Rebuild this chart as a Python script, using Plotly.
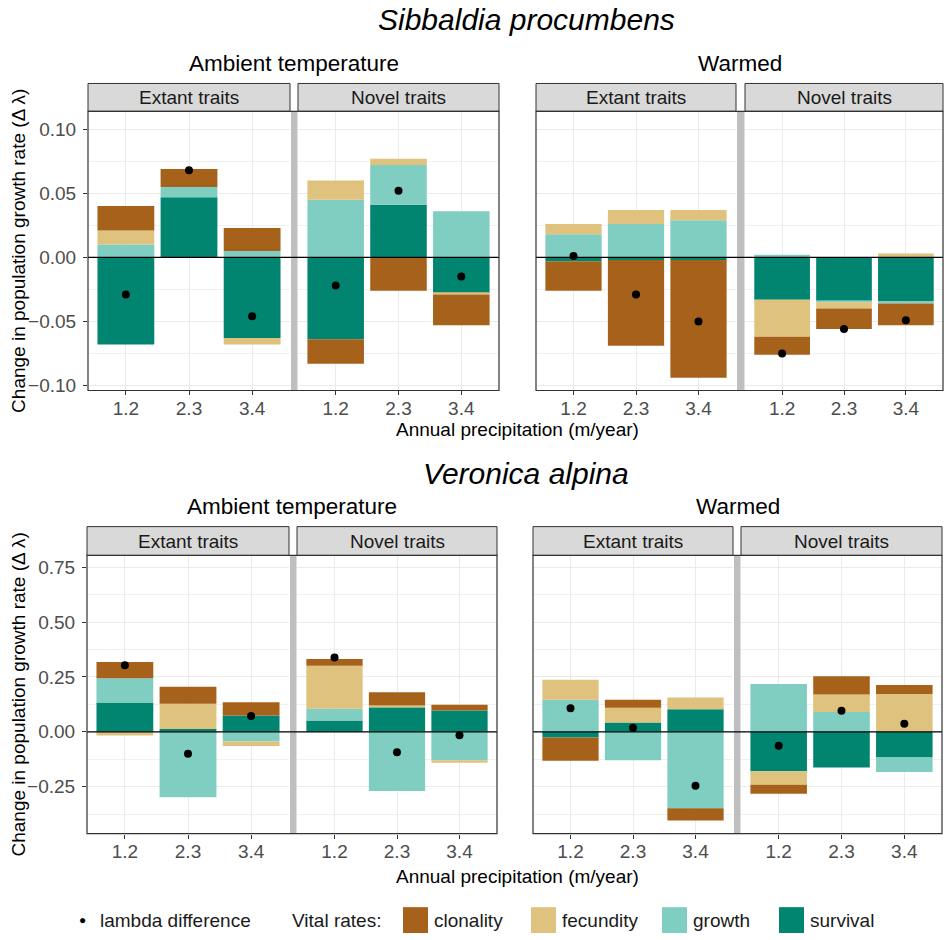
import plotly.graph_objects as go

# ---------------- data ----------------
precip = ['1.2', '2.3', '3.4']
species = ['Sibbaldia procumbens', 'Veronica alpina']
treatments = ['Ambient temperature', 'Warmed']
trait_sets = ['Extant traits', 'Novel traits']
rates = ['survival', 'growth', 'fecundity', 'clonality']

# panel order per list: ambient-extant(3), ambient-novel(3), warmed-extant(3), warmed-novel(3)
sib_survival = [-0.068, 0.047, -0.063, -0.064, 0.041, -0.028, -0.003, -0.002, -0.002, -0.033, -0.034, -0.034]
sib_growth = [0.010, 0.008, 0.005, 0.045, 0.031, 0.036, 0.018, 0.026, 0.029, 0.002, -0.001, -0.002]
sib_fecundity = [0.011, 0.000, -0.005, 0.015, 0.005, -0.001, 0.008, 0.011, 0.008, -0.029, -0.005, 0.003]
sib_clonality = [0.019, 0.014, 0.018, -0.019, -0.026, -0.024, -0.023, -0.067, -0.092, -0.014, -0.016, -0.017]
sib_lambda = [-0.029, 0.068, -0.046, -0.022, 0.052, -0.015, 0.001, -0.029, -0.050, -0.075, -0.056, -0.049]

ver_survival = [0.134, 0.013, 0.075, 0.052, 0.112, 0.097, -0.026, 0.042, 0.103, -0.180, -0.162, -0.117]
ver_growth = [0.110, -0.298, -0.044, 0.053, -0.270, -0.129, 0.146, -0.129, -0.348, 0.218, 0.090, -0.066]
ver_fecundity = [-0.017, 0.115, -0.021, 0.196, 0.008, -0.012, 0.091, 0.068, 0.054, -0.061, 0.080, 0.173]
ver_clonality = [0.074, 0.078, 0.060, 0.031, 0.060, 0.027, -0.106, 0.036, -0.056, -0.041, 0.083, 0.041]
ver_lambda = [0.303, -0.100, 0.072, 0.339, -0.093, -0.016, 0.108, 0.019, -0.246, -0.063, 0.096, 0.037]

sib_yticks = [-0.10, -0.05, 0.00, 0.05, 0.10]
sib_yticklabels = ['\u22120.10', '\u22120.05', '0.00', '0.05', '0.10']
ver_yticks = [-0.25, 0.00, 0.25, 0.50, 0.75]
ver_yticklabels = ['\u22120.25', '0.00', '0.25', '0.50', '0.75']

# ---------------- styles ----------------
colors = {'clonality': '#A6611A', 'fecundity': '#DFC27D', 'growth': '#80CDC1', 'survival': '#018571'}
FONT = 'Liberation Sans, Arial, sans-serif'
W, H = 944, 940

def fx(x):
    return x / W

def fy(y):
    return 1 - y / H

rows_px = [(112, 393), (559, 839)]
strips_px = [(84, 112), (530, 559)]
groups_px = [
    [[(88, 290), (298, 499)], [(536, 736), (745, 943)]],
    [[(87, 289), (297, 497)], [(533, 733), (741, 942)]],
]
yranges = [[-0.1039, 0.114], [-0.464, 0.804]]
minor_dt = [0.025, 0.125]
facet_title_y = [64, 510]
species_title_y = [20, 477]
xtitle_y = [432, 882]

data = [
    {'survival': sib_survival, 'growth': sib_growth, 'fecundity': sib_fecundity,
     'clonality': sib_clonality, 'lambda': sib_lambda,
     'ticks': sib_yticks, 'labels': sib_yticklabels},
    {'survival': ver_survival, 'growth': ver_growth, 'fecundity': ver_fecundity,
     'clonality': ver_clonality, 'lambda': ver_lambda,
     'ticks': ver_yticks, 'labels': ver_yticklabels},
]

fig = go.Figure()
layout = {}
shapes = []
annotations = []

for s in range(2):
    d = data[s]
    top, bot = rows_px[s]
    st0, st1 = strips_px[s]
    for g in range(2):
        for p in range(2):
            n = s * 4 + g * 2 + p + 1
            xa = 'x' if n == 1 else f'x{n}'
            ya = 'y' if n == 1 else f'y{n}'
            i0 = g * 6 + p * 3
            for r in rates:
                fig.add_trace(go.Bar(
                    x=precip, y=d[r][i0:i0 + 3], width=0.9,
                    marker=dict(color=colors[r], line=dict(width=0)),
                    name=r, showlegend=False, xaxis=xa, yaxis=ya))
            fig.add_trace(go.Scatter(
                x=precip, y=d['lambda'][i0:i0 + 3], mode='markers',
                marker=dict(color='black', size=8), name='lambda difference',
                showlegend=False, xaxis=xa, yaxis=ya))

            x0, x1 = groups_px[s][g][p]
            first = (g == 0 and p == 0)
            layout[f'xaxis{n}'] = dict(
                domain=[fx(x0), fx(x1)], anchor=ya, type='category',
                categoryorder='array', categoryarray=precip,
                range=[-0.6, 2.6], showgrid=True, gridcolor='#ebebeb', gridwidth=1.2,
                ticks='outside', ticklen=4, tickcolor='#333333', tickwidth=1,
                ticklabelstandoff=-3,
                tickfont=dict(family=FONT, size=19, color='#4d4d4d'),
                showline=False, zeroline=False, fixedrange=True)
            layout[f'yaxis{n}'] = dict(
                domain=[fy(bot), fy(top)], anchor=xa, range=yranges[s],
                tickmode='array', tickvals=d['ticks'], ticktext=d['labels'],
                showticklabels=first, ticks='outside' if first else '',
                ticklen=4, tickcolor='#333333', tickwidth=1,
                ticklabelstandoff=3,
                tickfont=dict(family=FONT, size=19, color='#4d4d4d'),
                showgrid=True, gridcolor='#ebebeb', gridwidth=1.2,
                minor=dict(tickmode='linear', tick0=0, dtick=minor_dt[s], showgrid=True,
                           gridcolor='#f0f0f0', gridwidth=0.8, ticks=''),
                showline=False, zeroline=False, fixedrange=True)

            # strip
            shapes.append(dict(type='rect', xref='paper', yref='paper',
                               x0=fx(x0), x1=fx(x1), y0=fy(st1), y1=fy(st0),
                               fillcolor='#d9d9d9', line=dict(color='#333333', width=1),
                               layer='above'))
            annotations.append(dict(text=trait_sets[p], xref='paper', yref='paper',
                                    x=fx((x0 + x1) / 2), y=fy((st0 + st1) / 2),
                                    xanchor='center', yanchor='middle', showarrow=False,
                                    font=dict(family=FONT, size=19, color='#1a1a1a')))

        (ax0, ax1), (bx0, bx1) = groups_px[s][g]
        n_first = s * 4 + g * 2 + 1
        yref0 = 'y' if n_first == 1 else f'y{n_first}'
        # grey separator between trait-set panels
        shapes.append(dict(type='rect', xref='paper', yref='paper',
                           x0=fx(ax1 + 1), x1=fx(bx0 - 0.5), y0=fy(bot), y1=fy(top),
                           fillcolor='#bfbfbf', line=dict(width=0), layer='above'))
        # zero line across the group
        shapes.append(dict(type='line', xref='paper', yref=yref0,
                           x0=fx(ax0), x1=fx(bx1), y0=0, y1=0,
                           line=dict(color='black', width=1.3), layer='above'))
        # border
        shapes.append(dict(type='rect', xref='paper', yref='paper',
                           x0=fx(ax0), x1=fx(bx1), y0=fy(bot), y1=fy(top),
                           line=dict(color='#333333', width=1.2), fillcolor='rgba(0,0,0,0)',
                           layer='above'))
        # facet title
        annotations.append(dict(text=treatments[g], xref='paper', yref='paper',
                                x=fx((ax0 + bx1) / 2), y=fy(facet_title_y[s]),
                                xanchor='center', yanchor='middle', showarrow=False,
                                font=dict(family=FONT, size=22.5, color='black')))

    # species title
    annotations.append(dict(text=f'<i>{species[s]}</i>', xref='paper', yref='paper',
                            x=fx(526), y=fy(species_title_y[s]),
                            xanchor='center', yanchor='middle', showarrow=False,
                            font=dict(family=FONT, size=30, color='black')))
    # x axis title
    annotations.append(dict(text='Annual precipitation (m/year)', xref='paper', yref='paper',
                            x=fx(517), y=fy(xtitle_y[s]),
                            xanchor='center', yanchor='middle', showarrow=False,
                            font=dict(family=FONT, size=19, color='black')))
    # y axis title
    annotations.append(dict(text='Change in population growth rate (\u0394 \u03bb)',
                            xref='paper', yref='paper',
                            x=fx(19), y=fy((top + bot) / 2), textangle=-90,
                            xanchor='center', yanchor='middle', showarrow=False,
                            font=dict(family=FONT, size=19, color='black')))

# ---------------- legend (manual) ----------------
leg_y = 926
annotations.append(dict(text='\u25CF', xref='paper', yref='paper', x=fx(82), y=fy(leg_y),
                        xanchor='center', yanchor='middle', showarrow=False,
                        font=dict(family=FONT, size=12, color='black')))
annotations.append(dict(text='lambda difference', xref='paper', yref='paper', x=fx(98), y=fy(leg_y),
                        xanchor='left', yanchor='middle', showarrow=False,
                        font=dict(family=FONT, size=19, color='#1a1a1a')))
annotations.append(dict(text='Vital rates:', xref='paper', yref='paper', x=fx(290), y=fy(leg_y),
                        xanchor='left', yanchor='middle', showarrow=False,
                        font=dict(family=FONT, size=19, color='#1a1a1a')))
legend_order = ['clonality', 'fecundity', 'growth', 'survival']
swatch_x = [403, 531, 662, 779]
for r, sx in zip(legend_order, swatch_x):
    shapes.append(dict(type='rect', xref='paper', yref='paper',
                       x0=fx(sx), x1=fx(sx + 25), y0=fy(939), y1=fy(913),
                       fillcolor=colors[r], line=dict(width=0)))
    annotations.append(dict(text=r, xref='paper', yref='paper', x=fx(sx + 29), y=fy(leg_y),
                            xanchor='left', yanchor='middle', showarrow=False,
                            font=dict(family=FONT, size=19, color='#1a1a1a')))

fig.update_layout(
    **layout,
    width=W, height=H, autosize=False,
    margin=dict(l=0, r=0, t=0, b=0),
    paper_bgcolor='white', plot_bgcolor='white',
    barmode='relative', showlegend=False,
    shapes=shapes, annotations=annotations,
    font=dict(family=FONT, size=19, color='black'),
)

# remove the default page margin so the figure fills the 944x940 window exactly
page_js = (
    "var de=document.documentElement, b=document.body;"
    "de.style.margin='0';de.style.padding='0';"
    "b.style.margin='0';b.style.padding='0';"
)
fig.write_html('out.html', config={'displayModeBar': False}, post_script=page_js)
